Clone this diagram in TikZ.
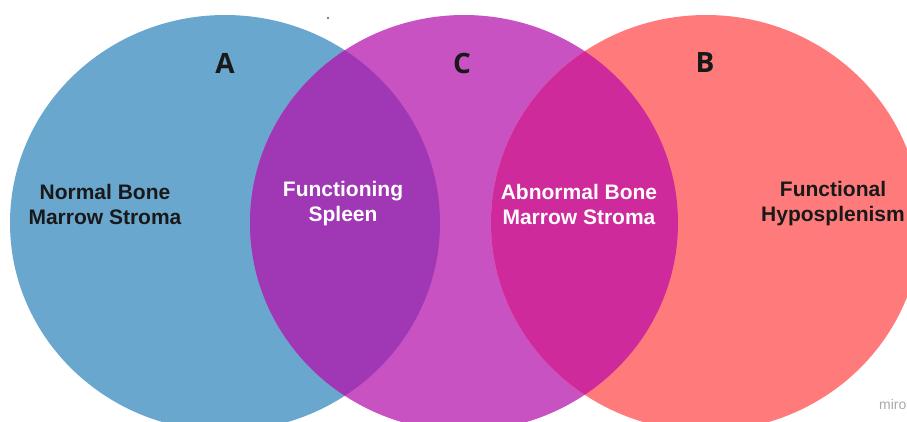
\documentclass[tikz,border=0pt]{standalone}
\usepackage{fontspec}
\setmainfont{Liberation Sans}
\newfontfamily\letterfont{Open Sans}
\definecolor{cA}{RGB}{106,167,207}
\definecolor{cC}{RGB}{201,82,195}
\definecolor{cB}{RGB}{255,123,123}
\definecolor{cAC}{RGB}{160,55,181}
\definecolor{cCB}{RGB}{206,42,156}
\definecolor{wm}{RGB}{170,170,170}
\tikzset{
  setlabel/.style={font=\letterfont\bfseries\fontsize{28}{30}\selectfont, text=black!90, inner sep=0pt},
  darktext/.style={font=\bfseries\fontsize{21}{25}\selectfont, align=center, text=black!90, inner sep=0pt},
  lighttext/.style={font=\bfseries\fontsize{21}{25}\selectfont, align=center, text=white, inner sep=0pt}
}
\begin{document}
\begin{tikzpicture}[x=1pt,y=-1pt]
\useasboundingbox (0,0) rectangle (907,421);
\fill[white] (0,0) rectangle (907,421);
\clip (0,0) rectangle (907,421);
% circles
\fill[cA] (225,223) ellipse [x radius=215, y radius=208];
\fill[cC] (464,223) ellipse [x radius=214, y radius=208];
\fill[cB] (706,223) ellipse [x radius=215, y radius=208];
\begin{scope}
  \clip (225,223) ellipse [x radius=215, y radius=208];
  \fill[cAC] (464,223) ellipse [x radius=214, y radius=208];
\end{scope}
\begin{scope}
  \clip (464,223) ellipse [x radius=214, y radius=208];
  \fill[cCB] (706,223) ellipse [x radius=215, y radius=208];
\end{scope}
% dot
\fill[black] (328,18) circle (0.9);
% set labels
\node[setlabel] (la) at (225,63) {A};
\node[setlabel] (lc) at (462,63) {C};
\node[setlabel] (lb) at (705,63) {B};
% region texts
\node[darktext] (t1) at (105,204) {Normal Bone\\Marrow Stroma};
\node[lighttext] (t2) at (343,204) {Functioning\\Spleen};
\node[lighttext] (t3) at (579,204) {Abnormal Bone\\Marrow Stroma};
\node[darktext] (t4) at (833,204) {Functional\\Hyposplenism};
% watermark
\node[anchor=west, text=wm, font=\fontsize{14}{16}\selectfont, inner sep=0pt] (wm) at (879,404) {miro};
\end{tikzpicture}
\end{document}
